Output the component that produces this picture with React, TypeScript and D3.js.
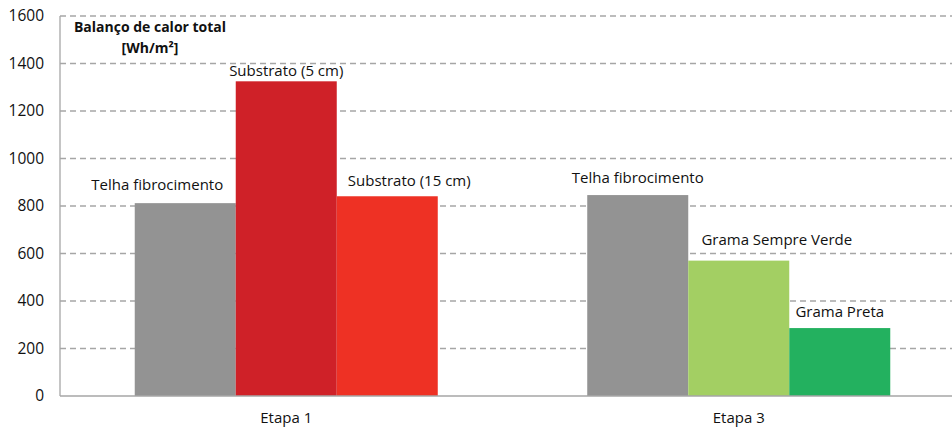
import React from "react";
import * as d3 from "d3";

const categories = ["Etapa 1", "Etapa 3"];
const seriesLabels = [
  ["Telha fibrocimento", "Substrato (5 cm)", "Substrato (15 cm)"],
  ["Telha fibrocimento", "Grama Sempre Verde", "Grama Preta"],
];
const seriesValues = [
  [812, 1325, 841],
  [846, 570, 286],
];
const seriesColors = [
  ["#939393", "#cf2128", "#ee3124"],
  ["#939393", "#a3cf63", "#23b15f"],
];
const yTicks = [0, 200, 400, 600, 800, 1000, 1200, 1400, 1600];
const titleLines = ["Balanço de calor total", "[Wh/m²]"];

// label offsets relative to bar centre / top (layout only)
const labelDx = [
  [-28, 0, 22],
  [0, 38, 0],
];
const labelGap = [
  [13, 5, 10],
  [12, 16, 11],
];

const W = 952;
const H = 429;
const M = { left: 60, top: 16, bottom: 396, right: 965 };
const FONT = "'Open Sans', sans-serif";

export default function App() {
  const x0 = d3.scaleBand().domain(categories).range([M.left, M.right]).paddingInner(0).paddingOuter(0);
  const y = d3.scaleLinear().domain([0, 1600]).range([M.bottom, M.top]);
  const inner = d3.scaleBand<number>().domain([0, 1, 2]).range([0, x0.bandwidth()]).paddingOuter(0.74).paddingInner(0);

  return (
    <svg width={W} height={H} style={{ position: "fixed", left: 0, top: 0, background: "#fff" }} fontFamily={FONT}>
      <rect width={W} height={H} fill="#fff" />
      {yTicks.filter((t) => t > 0).map((t) => (
        <line key={t} x1={M.left} x2={W} y1={y(t)} y2={y(t)} stroke="#a6a6a6" strokeWidth={1.3} strokeDasharray="6,4" />
      ))}
      {yTicks.map((t) => (
        <text key={t} x={44} y={y(t)} dy="0.35em" textAnchor="end" fontSize={15.5} fill="#111">
          {t}
        </text>
      ))}
      {categories.map((c, ci) =>
        seriesValues[ci].map((v, si) => {
          const bx = (x0(c) as number) + (inner(si) as number);
          const bw = inner.bandwidth();
          return (
            <g key={c + si}>
              <rect x={bx} y={y(v)} width={bw} height={y(0) - y(v)} fill={seriesColors[ci][si]} />
              <text x={bx + bw / 2 + labelDx[ci][si]} y={y(v) - labelGap[ci][si]} textAnchor="middle" fontSize={15} fill="#111">
                {seriesLabels[ci][si]}
              </text>
            </g>
          );
        })
      )}
      <line x1={M.left} x2={M.left} y1={M.top} y2={M.bottom} stroke="#a6a6a6" strokeWidth={1.3} />
      <line x1={M.left} x2={W} y1={M.bottom} y2={M.bottom} stroke="#a6a6a6" strokeWidth={1.3} />
      {categories.map((c) => (
        <text key={c} x={(x0(c) as number) + x0.bandwidth() / 2} y={418} dy="0.35em" textAnchor="middle" fontSize={15} fill="#111">
          {c}
        </text>
      ))}
      <text x={150} y={32} textAnchor="middle" fontSize={14} fontWeight="bold" fill="#111">
        {titleLines[0]}
      </text>
      <text x={150} y={53} textAnchor="middle" fontSize={14} fontWeight="bold" fill="#111">
        {titleLines[1]}
      </text>
    </svg>
  );
}
